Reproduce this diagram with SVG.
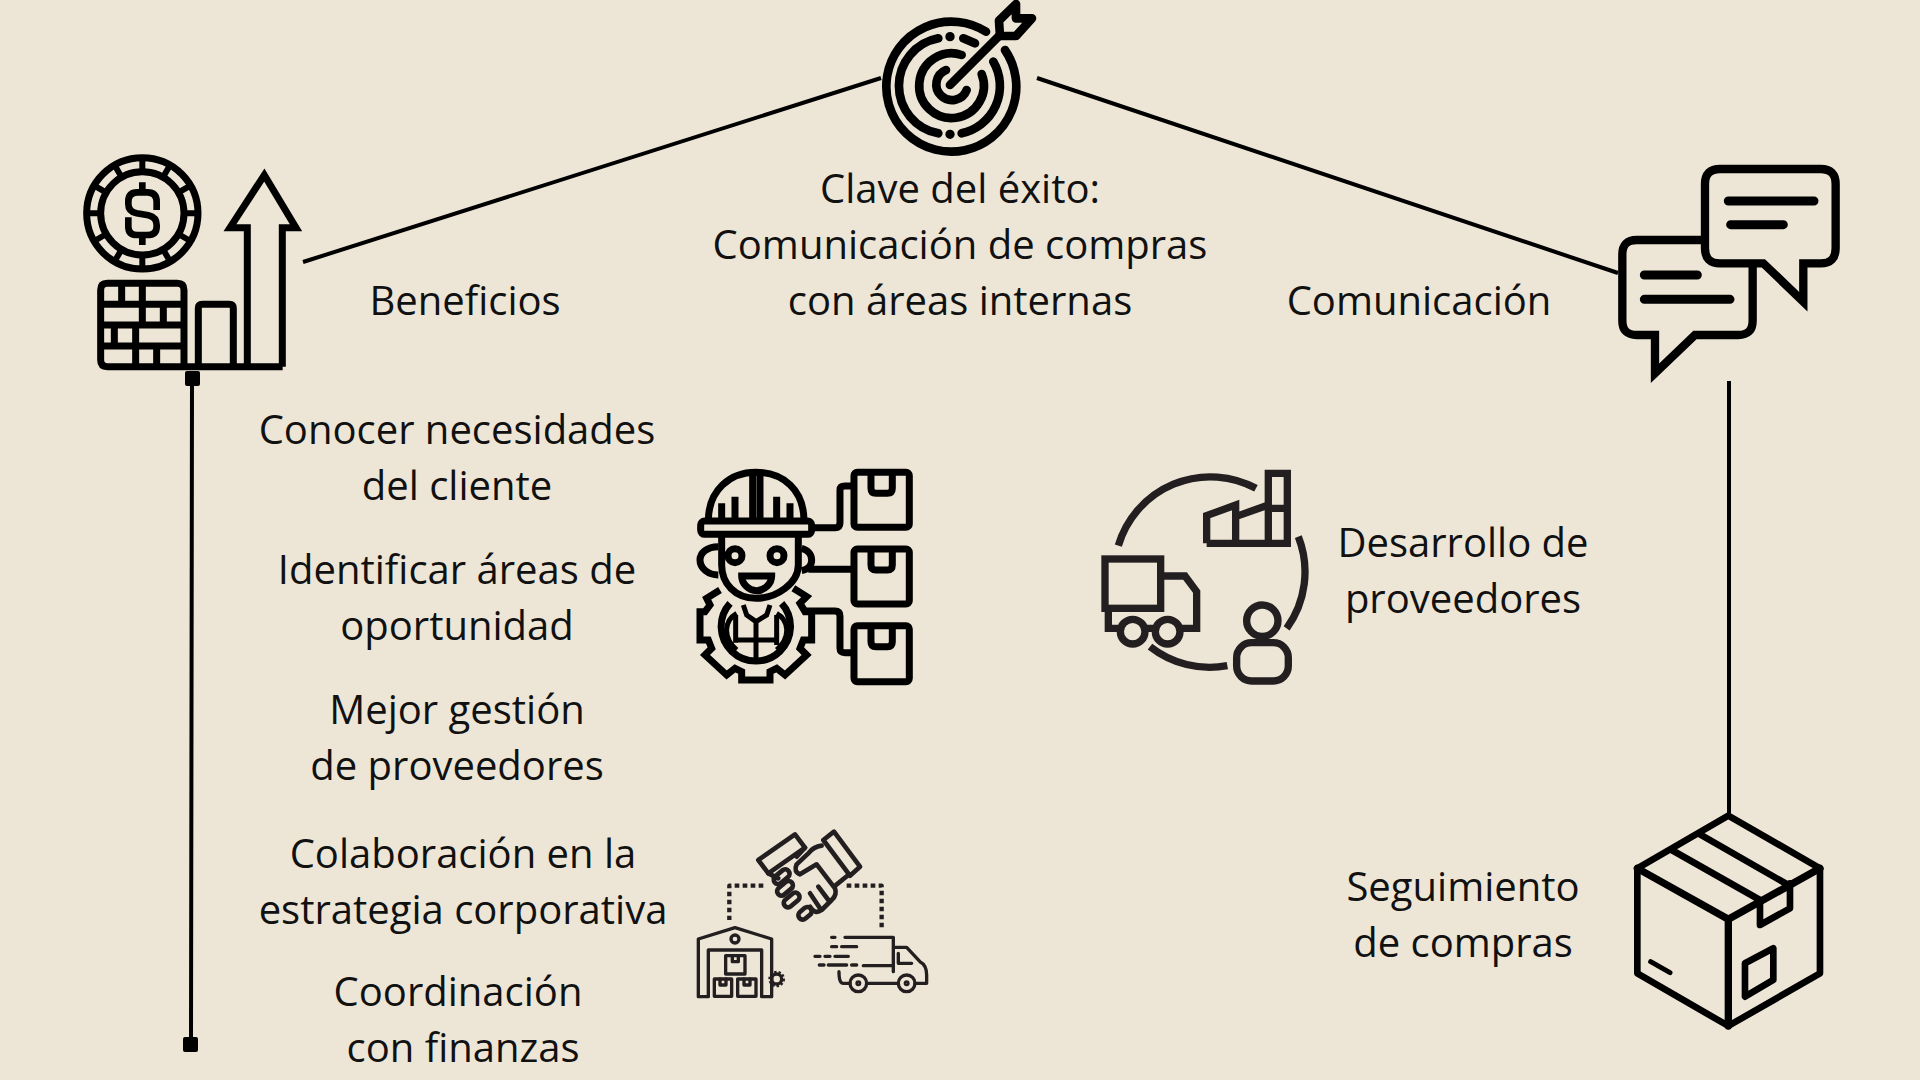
<svg xmlns="http://www.w3.org/2000/svg" width="1920" height="1080" viewBox="0 0 1920 1080">
<style>
.t{font-family:"Open Sans","Noto Sans",sans-serif;font-size:40px;fill:#111;text-anchor:middle}
.i{fill:none;stroke:#000;stroke-linejoin:miter}
.r{stroke-linecap:round;stroke-linejoin:round}
.c{stroke:#231f20}
.l{fill:none;stroke:#000;stroke-width:4}
</style>
<rect width="1920" height="1080" fill="#ede6d6"/>
<g id="connectors">
<path class="l" d="M303 262L881 78M1037 78L1618 273M1729 381V813M192 378L191 1044"/>
<rect x="185" y="371" width="15" height="15" rx="2"/>
<rect x="183" y="1037" width="15" height="15" rx="2"/>
</g>
<g id="node-beneficios">
<g class="i" transform="translate(60 130) scale(.3333)" stroke-width="21">
<circle cx="247" cy="250" r="167"/><circle cx="247" cy="250" r="125"/>
<path stroke-width="18" d="M247 83V125M247 375V417M80 250H122M372 250H414M164 106L185 142M330 106L309 142M164 394L185 358M330 394L309 358M103 167L139 188M391 167L355 188M103 333L139 312M391 333L355 312"/>
<path stroke-width="20" d="M290 240V215Q290 187 262 187H232Q205 187 205 215V222Q205 245 230 250L265 256Q290 262 290 285V290Q290 315 262 315H232Q205 315 205 290V262M247 157V187M247 315V345"/>
<path d="M372 710H142Q122 710 122 690V480Q122 460 142 460H352Q372 460 372 480V710H668M122 523H372M122 585H372M122 648H372M185 460V523M247 460V523M247 523V585M310 523V585M163 585V648M227 585V648M227 648V710M290 648V710"/>
<path d="M415 710V535Q415 523 427 523H508Q520 523 520 535V710"/>
<path d="M562 710V293H510L613 135L708 293H667V710"/>
</g>
</g>
<g id="node-objetivo">
<g class="i r" transform="translate(860 0) scale(.3333)" stroke-width="26">
<path d="M378 95A195 195 0 1 0 435 150"/>
<path d="M235 115A145 145 0 0 0 235 400M305 400A145 145 0 0 0 400 185M310 115L345 130"/>
<path d="M305 165A97 97 0 1 0 365 222"/>
<path d="M258 210A47 47 0 1 0 320 270"/>
<path d="M270 255L420 105"/>
<path d="M417 62L468 12V55H516L468 108H420Z"/>
<path stroke-width="28" d="M270 110h.1M270 403h.1"/>
</g>
</g>
<g id="node-comunicacion">
<g class="i" transform="translate(1600 150) scale(.3333)" stroke-width="25">
<path d="M315 270H110Q67 270 67 313V512Q67 555 110 555H165V670L285 555H415Q458 555 458 512V340"/>
<path d="M360 57H662Q707 57 707 102V295Q707 340 662 340H610V455L490 340H360Q315 340 315 295V102Q315 57 360 57Z"/>
<path class="r" stroke-width="27" d="M133 375H292M133 448H390M385 153H642M392 224H550"/>
</g>
</g>
<g id="node-ingeniero">
<g class="i" transform="translate(680 450) scale(.3333)" stroke-width="21">
<path d="M85 213C85 120 150 67 228 67C310 67 372 120 372 213"/>
<rect x="62" y="213" width="333" height="40" rx="12"/>
<path d="M218 67V213M240 67V213M125 213V160M165 213V140M290 213V140M330 213V160"/>
<path d="M125 253V345C125 400 165 445 228 445C290 445 355 400 355 345V253"/>
<circle cx="165" cy="317" r="21"/><circle cx="291" cy="317" r="21"/>
<path d="M185 378H275C275 400 255 422 230 422C205 422 185 400 185 378Z"/>
<path d="M115 290C80 290 60 310 60 330C60 355 85 375 115 375M365 295C385 300 395 315 395 330C395 345 385 358 365 362"/>
<path d="M120 420L80 445L90 465L75 485H60V570H85L95 595L75 615L140 675L165 655L185 665V690H270V665L290 655L315 675L380 615L360 595L370 570H395V485H375L360 460L380 440L340 415"/>
<path d="M150 460A104 104 0 1 0 305 460"/>
<path stroke-width="15" d="M190 465L200 495L228 515L260 495L270 465M167 495V578M228 515V625M290 495V585M160 570H295M170 490C135 510 125 560 170 600M290 490C325 510 335 560 290 600"/>
<path d="M395 233H465Q480 233 480 218V120Q480 108 495 108H520M385 358H520M375 483H465Q480 483 480 498V595Q480 608 495 608H520"/>
<rect x="522" y="67" width="166" height="165" rx="10"/><rect x="522" y="297" width="166" height="165" rx="10"/><rect x="522" y="527" width="166" height="168" rx="10"/>
<path d="M573 67V115Q573 130 588 130H622Q637 130 637 115V67M573 297V345Q573 360 588 360H622Q637 360 637 345V297M573 527V575Q573 590 588 590H622Q637 590 637 575V527"/>
</g>
</g>
<g id="node-desarrollo">
<g class="i c" transform="translate(1090 455) scale(.3333)" stroke-width="22">
<path d="M85 272A288 288 0 0 1 498 100M625 245A288 288 0 0 1 590 520M180 575A288 288 0 0 0 412 632"/>
<path d="M350 265V182L437 150V265M350 265H592V55H535V265M535 160H592M437 185L535 150"/>
<rect x="45" y="312" width="167" height="148"/>
<path d="M212 363H285L320 410V520H270M190 520H170M55 460V520H85"/>
<circle cx="128" cy="530" r="37"/><circle cx="233" cy="530" r="37"/>
<circle cx="517" cy="497" r="47"/><rect x="440" y="563" width="155" height="115" rx="45"/>
</g>
</g>
<g id="node-colaboracion">
<g class="i c r" transform="translate(680 815) scale(.3333)" stroke-width="14">
<path stroke-linecap="butt" stroke-width="13" stroke-dasharray="14 10" d="M250 212H148V315M500 212H605V345"/>
<path d="M235 135L345 58L375 98L265 175ZM430 75L462 50L540 155L510 182Z"/>
<path d="M425 92Q400 95 385 115L350 148Q340 170 360 178L410 148L465 220Q472 240 455 255L425 285Q405 300 390 275M375 98L350 125M505 180L462 215M265 175L295 190M415 215L445 255M390 235L420 280"/>
<rect x="-27" y="-13" width="54" height="26" rx="13" transform="translate(305 185) rotate(-40)"/>
<rect x="-27" y="-13" width="54" height="26" rx="13" transform="translate(315 220) rotate(-40)"/>
<rect x="-27" y="-13" width="54" height="26" rx="13" transform="translate(335 255) rotate(-40)"/>
<rect x="-22" y="-13" width="44" height="26" rx="13" transform="translate(375 295) rotate(-40)"/>
<g stroke-width="10">
<path d="M55 545V372L165 338L275 372V545H245V405H85V545Z"/>
<circle cx="165" cy="372" r="12"/>
<rect x="137" y="422" width="58" height="55"/><rect x="103" y="492" width="52" height="52"/><rect x="173" y="492" width="55" height="52"/>
<path d="M157 422V440H175V422M120 492V510H138V492M192 492V510H210V492"/>
<circle cx="290" cy="492" r="15"/><circle cx="290" cy="492" r="21" stroke-width="8" stroke-dasharray="7 6" stroke-linecap="butt"/>
<path d="M495 367H640V470M550 452H640M640 397H680L720 440Q740 450 740 480V505H705M655 505H560M510 505H490Q477 505 477 470M655 415V445H695"/>
<circle cx="535" cy="505" r="25"/><circle cx="680" cy="505" r="25"/><circle cx="535" cy="505" r="4"/><circle cx="680" cy="505" r="4"/>
<path d="M455 367H465M455 395H470M485 395H530M405 424H420M435 424H450M465 424H505M418 450H432M445 450H500M515 450H530"/>
</g>
</g>
</g>
<g id="node-seguimiento">
<g class="i r" transform="translate(1610 800) scale(.3333)" stroke-width="20">
<path d="M355 47L630 205V520L355 678L82 520V205Z"/>
<path stroke-width="22" d="M82 205L355 358L630 205M355 358V678"/>
<path d="M185 150L450 300M270 103L535 255M450 300V375L540 325V250"/>
<path d="M405 490L490 445V540L405 590Z"/>
<path stroke-width="15" d="M122 485L180 518"/>
</g>
</g>
<g id="labels">
<text class="t" x="960" y="203">Clave del éxito:</text>
<text class="t" x="960" y="259">Comunicación de compras</text>
<text class="t" x="960" y="315">con áreas internas</text>
<text class="t" x="465" y="315">Beneficios</text>
<text class="t" x="1419" y="315">Comunicación</text>
<text class="t" x="457" y="444">Conocer necesidades</text>
<text class="t" x="457" y="500">del cliente</text>
<text class="t" x="457" y="584">Identificar áreas de</text>
<text class="t" x="457" y="640">oportunidad</text>
<text class="t" x="457" y="724">Mejor gestión</text>
<text class="t" x="457" y="780">de proveedores</text>
<text class="t" x="463" y="868">Colaboración en la</text>
<text class="t" x="463" y="924">estrategia corporativa</text>
<text class="t" x="458" y="1006">Coordinación</text>
<text class="t" x="463" y="1062">con finanzas</text>
<text class="t" x="1463" y="557">Desarrollo de</text>
<text class="t" x="1463" y="613">proveedores</text>
<text class="t" x="1463" y="901">Seguimiento</text>
<text class="t" x="1463" y="957">de compras</text>
</g>
</svg>
